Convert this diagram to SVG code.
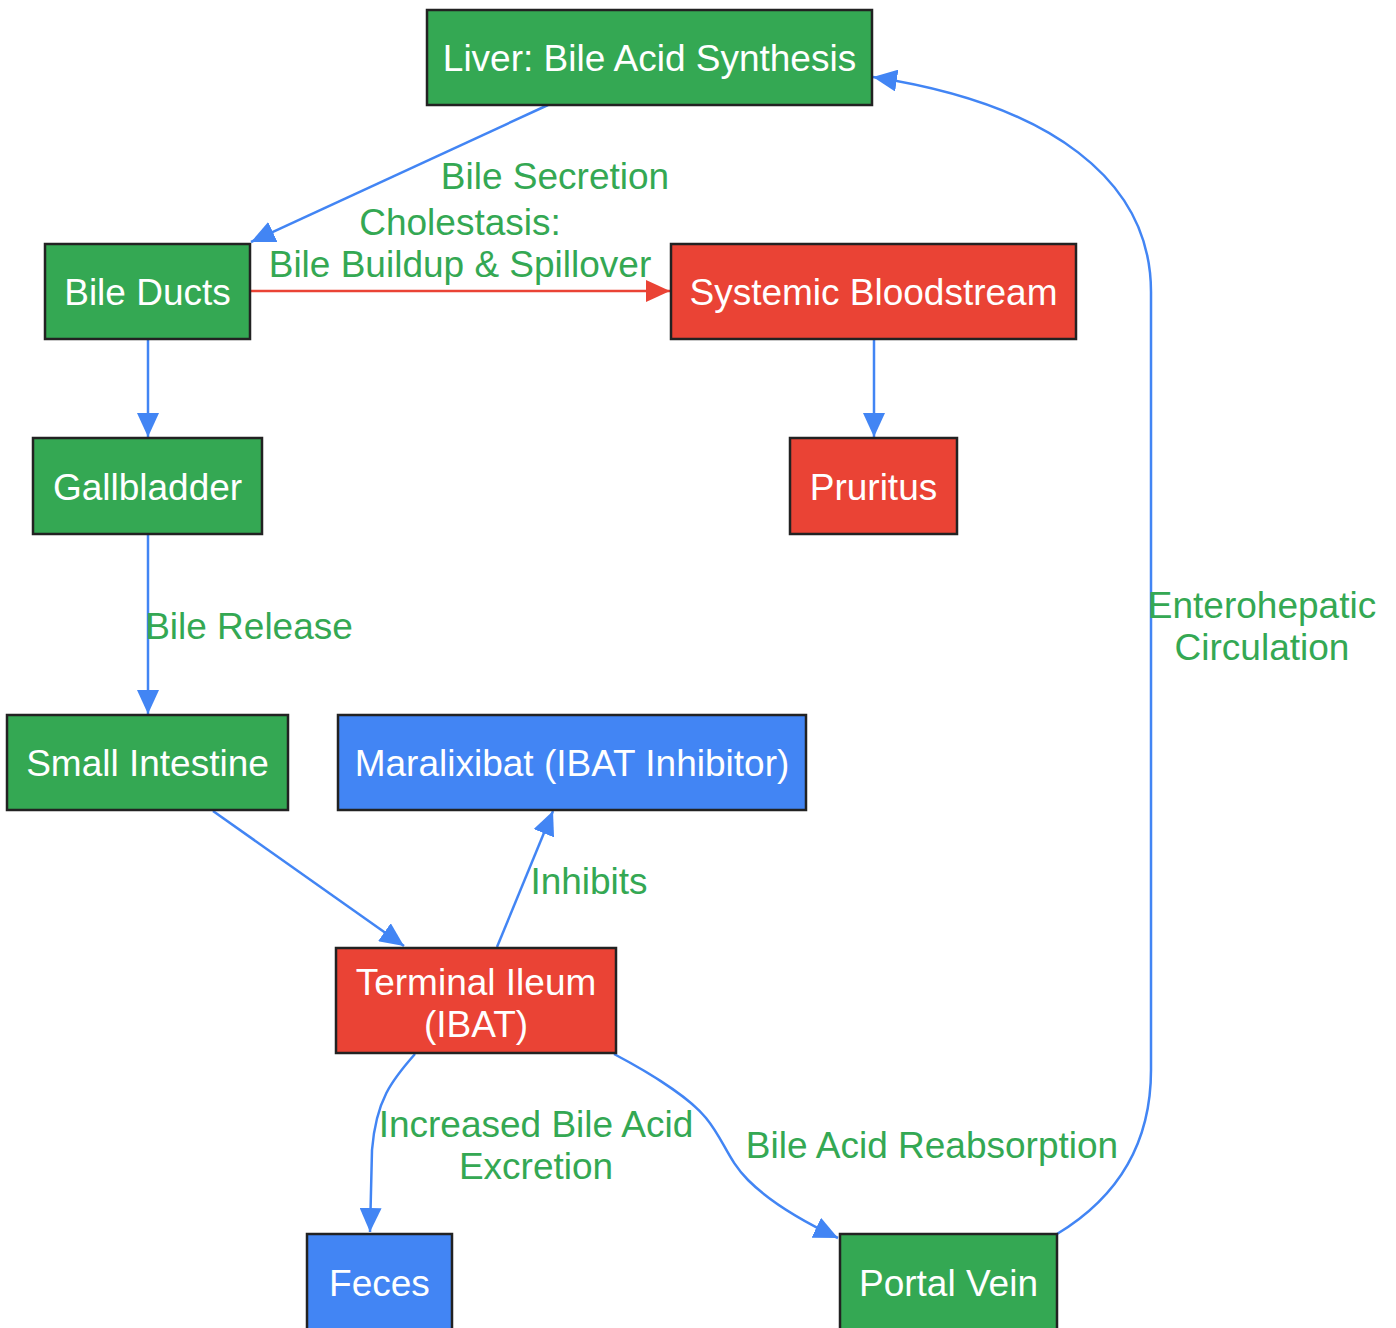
<svg xmlns="http://www.w3.org/2000/svg" width="1396" height="1328" viewBox="0 0 1396 1328">
<style>
.node rect{stroke:#222;stroke-width:2.5}
.g rect{fill:#34A853}
.r rect{fill:#EA4335}
.b rect{fill:#4285F4}
.node text{fill:#fff;font-family:"Liberation Sans",Arial,sans-serif;font-size:37px;text-anchor:middle;dominant-baseline:central}
.edge{fill:none;stroke-width:2.5}
.blue{stroke:#4285F4}
.red{stroke:#EA4335}
.lbl{fill:#34A853;font-family:"Liberation Sans",Arial,sans-serif;font-size:37px;text-anchor:middle;dominant-baseline:central}
</style>
<defs>
<marker id="ab" markerUnits="userSpaceOnUse" markerWidth="26" markerHeight="22" refX="24" refY="11" orient="auto"><path d="M0,0 L24,11 L0,22 z" fill="#4285F4"/></marker>
<marker id="ar" markerUnits="userSpaceOnUse" markerWidth="26" markerHeight="22" refX="24" refY="11" orient="auto"><path d="M0,0 L24,11 L0,22 z" fill="#EA4335"/></marker>
</defs>
<rect width="1396" height="1328" fill="#fff"/>
<g id="connectors">
<path class="edge blue" d="M548,105 L251,242" marker-end="url(#ab)"/>
<path class="edge red" d="M251,291 L670,291" marker-end="url(#ar)"/>
<path class="edge blue" d="M148,340 L148,437" marker-end="url(#ab)"/>
<path class="edge blue" d="M874,340 L874,437" marker-end="url(#ab)"/>
<path class="edge blue" d="M148,535 L148,714" marker-end="url(#ab)"/>
<path class="edge blue" d="M213,811 L404,946" marker-end="url(#ab)"/>
<path class="edge blue" d="M497,947 L553,811" marker-end="url(#ab)"/>
<path class="edge blue" d="M415,1054 C392,1080 376,1100 372,1150 L370,1232" marker-end="url(#ab)"/>
<path class="edge blue" d="M614,1054 C650,1073 690,1098 706,1118 C724,1140 728,1160 748,1180 C770,1202 800,1220 838,1238" marker-end="url(#ab)"/>
<path class="edge blue" d="M1057,1234 C1120,1196 1151,1140 1151,1070 L1151,292 C1151,180 1050,104 873,77" marker-end="url(#ab)"/>
<text class="lbl" x="555" y="176">Bile Secretion</text>
<text class="lbl" x="460" y="222">Cholestasis:</text>
<text class="lbl" x="460" y="264">Bile Buildup &amp; Spillover</text>
<text class="lbl" x="249" y="626">Bile Release</text>
<text class="lbl" x="589" y="881">Inhibits</text>
<text class="lbl" x="536" y="1124">Increased Bile Acid</text>
<text class="lbl" x="536" y="1166">Excretion</text>
<text class="lbl" x="932" y="1145">Bile Acid Reabsorption</text>
<text class="lbl" x="1262" y="605">Enterohepatic</text>
<text class="lbl" x="1262" y="647">Circulation</text>
</g>
<g id="liver" class="node g"><rect x="427" y="10" width="445" height="95"/><text x="649.5" y="58">Liver: Bile Acid Synthesis</text></g>
<g id="bileducts" class="node g"><rect x="45" y="244" width="205" height="95"/><text x="147.5" y="292">Bile Ducts</text></g>
<g id="systemic" class="node r"><rect x="671" y="244" width="405" height="95"/><text x="873.5" y="292">Systemic Bloodstream</text></g>
<g id="gallbladder" class="node g"><rect x="33" y="438" width="229" height="96"/><text x="147.5" y="487">Gallbladder</text></g>
<g id="pruritus" class="node r"><rect x="790" y="438" width="167" height="96"/><text x="873.5" y="487">Pruritus</text></g>
<g id="smallintestine" class="node g"><rect x="7" y="715" width="281" height="95"/><text x="147.5" y="763">Small Intestine</text></g>
<g id="maralixibat" class="node b"><rect x="338" y="715" width="468" height="95"/><text x="572" y="763">Maralixibat (IBAT Inhibitor)</text></g>
<g id="ileum" class="node r"><rect x="336" y="948" width="280" height="105"/><text x="476" y="982">Terminal Ileum</text><text x="476" y="1024">(IBAT)</text></g>
<g id="feces" class="node b"><rect x="307" y="1234" width="145" height="96"/><text x="379.5" y="1283">Feces</text></g>
<g id="portalvein" class="node g"><rect x="840" y="1234" width="217" height="96"/><text x="948.5" y="1283">Portal Vein</text></g>
</svg>
